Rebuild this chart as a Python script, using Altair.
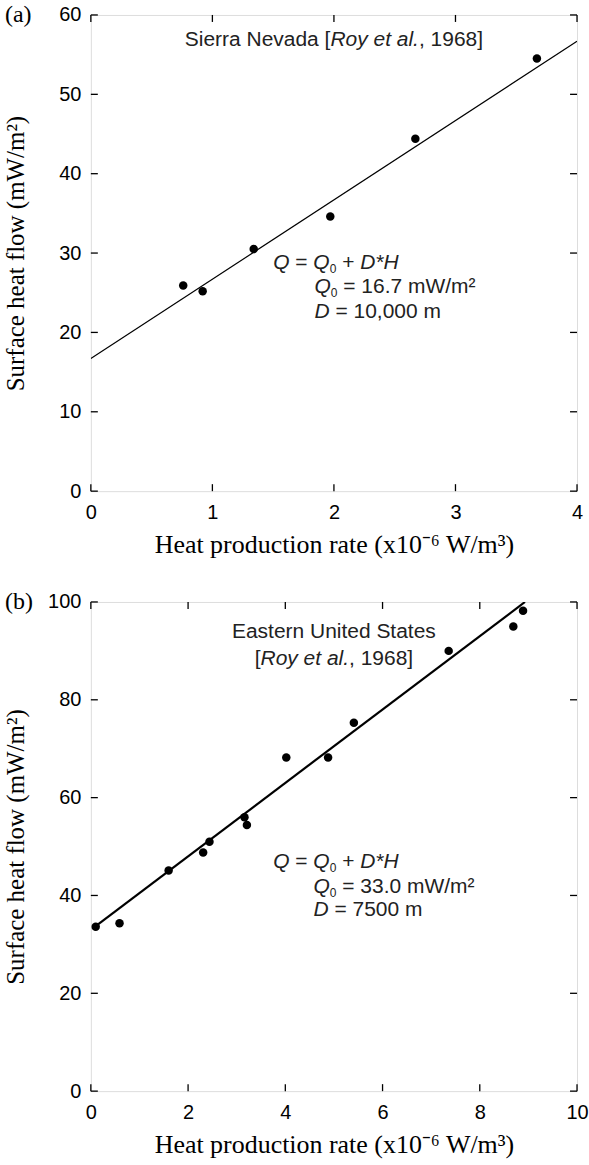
import altair as alt
import pandas as pd

# ---------------- data ----------------
# Panel (a): Sierra Nevada
a_heat = [0.76, 0.92, 1.34, 1.97, 2.67, 3.67]
a_flow = [25.9, 25.2, 30.5, 34.6, 44.4, 54.5]
a_line_heat = [0.0, 4.0]
a_line_flow = [16.7, 56.7]
a_xticks = [0, 1, 2, 3, 4]
a_yticks = [0, 10, 20, 30, 40, 50, 60]

# Panel (b): Eastern United States
b_heat = [0.10, 0.59, 1.60, 2.31, 2.44, 3.16, 3.21, 4.02, 4.88, 5.41, 7.36, 8.69, 8.89]
b_flow = [33.6, 34.3, 45.1, 48.8, 51.0, 56.0, 54.4, 68.2, 68.2, 75.3, 90.0, 95.0, 98.2]
b_line_heat = [0.10, 8.93]
b_line_flow = [33.75, 100.0]
b_xticks = [0, 2, 4, 6, 8, 10]
b_yticks = [0, 20, 40, 60, 80, 100]

X_TITLE = "Heat production rate (x10\u207b\u2076 W/m\u00b3)"
Y_TITLE = "Surface heat flow (mW/m\u00b2)"

SANS = "Liberation Sans"
SERIF = "Liberation Serif"
FS = 21      # annotation font size
SUB = 12     # subscript font size
PW = 487     # plot width

# Helvetica/Arial advance widths (1/1000 em) for text layout
HW = {' ': 278, '[': 278, ']': 278, ',': 278, '.': 278, '=': 584, '+': 584,
      '*': 389, '/': 278, '\u00b2': 333,
      'D': 722, 'E': 667, 'H': 722, 'N': 722, 'Q': 778, 'R': 722, 'S': 667,
      'U': 722, 'W': 944,
      'a': 556, 'd': 556, 'e': 556, 'i': 222, 'l': 222, 'm': 833, 'n': 556,
      'o': 556, 'r': 333, 's': 500, 't': 278, 'v': 500, 'y': 500}


def tw(s, size):
    return sum(HW.get(c, 556) for c in s) * size / 1000.0


def seg_rows(segs, x_start, y, ppu, center=False):
    """segs: list of (text, style); returns rows with data-space x."""
    sizes = {'n': FS, 'i': FS, 's': SUB}
    total = sum(tw(t, sizes[st]) for t, st in segs)
    cur = -total / 2.0 if center else 0.0
    rows = []
    for t, st in segs:
        size = sizes[st]
        lead = len(t) - len(t.lstrip(' '))
        cur += tw(' ' * lead, size)
        core = t.strip(' ')
        rows.append({'h': x_start + cur / ppu, 'q': y, 't': core, 'st': st})
        cur += tw(core, size)
        trail = len(t) - len(t.rstrip(' ')) if t.strip(' ') else 0
        cur += tw(' ' * trail, size)
    return rows


def build_panel(W, H, xdom, ydom, xticks, yticks, px, py, lx, ly, lw,
                text_rows, label, ytitle_pad):
    xs = alt.Scale(domain=xdom, nice=False, zero=False)
    ys = alt.Scale(domain=ydom, nice=False, zero=False)
    ax = alt.Axis(values=xticks, ticks=False, tickSize=0, domain=False, grid=False,
                  labelFont=SANS, labelFontSize=20, labelColor='black',
                  labelPadding=11, labelFlush=False, format='d',
                  titleFont=SERIF, titleFontSize=26, titleFontWeight='normal',
                  titleColor='black', titlePadding=9)
    ay = alt.Axis(values=yticks, ticks=False, tickSize=0, domain=False, grid=False,
                  labelFont=SANS, labelFontSize=20, labelColor='black',
                  labelPadding=10, labelFlush=False, format='d',
                  titleFont=SERIF, titleFontSize=25, titleFontWeight='normal',
                  titleColor='black', titlePadding=ytitle_pad)

    def X():
        return alt.X('h:Q', scale=xs, axis=ax, title=X_TITLE)

    def Y():
        return alt.Y('q:Q', scale=ys, axis=ay, title=Y_TITLE)

    pts = pd.DataFrame({'h': px, 'q': py})
    line = pd.DataFrame({'h': lx, 'q': ly})
    xt = pd.DataFrame({'h': xticks})
    yt = pd.DataFrame({'q': yticks})
    txt = pd.DataFrame(text_rows)
    lab = pd.DataFrame({'t': [label]})
    L = 7

    layers = [
        alt.Chart(line).mark_line(color='black', strokeWidth=lw, clip=True).encode(x=X(), y=Y()),
        alt.Chart(pts).mark_circle(size=72, color='black', opacity=1).encode(x=X(), y=Y()),
        alt.Chart(xt).mark_rule(color='black', strokeWidth=1.3).encode(
            x=X(), y=alt.value(H), y2=alt.value(H - L)),
        alt.Chart(xt).mark_rule(color='black', strokeWidth=1.3).encode(
            x=X(), y=alt.value(0), y2=alt.value(L)),
        alt.Chart(yt).mark_rule(color='black', strokeWidth=1.3).encode(
            y=Y(), x=alt.value(0), x2=alt.value(L)),
        alt.Chart(yt).mark_rule(color='black', strokeWidth=1.3).encode(
            y=Y(), x=alt.value(W), x2=alt.value(W - L)),
        alt.Chart(txt).transform_filter(alt.datum.st == 'n').mark_text(
            font=SANS, fontSize=FS, align='left', baseline='middle', color='#222222').encode(
            x=X(), y=Y(), text='t:N'),
        alt.Chart(txt).transform_filter(alt.datum.st == 'i').mark_text(
            font=SANS, fontSize=FS, fontStyle='italic', align='left', baseline='middle',
            color='#222222').encode(x=X(), y=Y(), text='t:N'),
        alt.Chart(txt).transform_filter(alt.datum.st == 's').mark_text(
            font=SANS, fontSize=SUB, align='left', baseline='middle', dy=6,
            color='#222222').encode(x=X(), y=Y(), text='t:N'),
        alt.Chart(lab).mark_text(font=SERIF, fontSize=24, align='left', baseline='middle',
                                 color='black').encode(
            text='t:N', x=alt.value(-86), y=alt.value(0)),
    ]
    return alt.layer(*layers).properties(width=W, height=H)


# ---------------- annotations ----------------
a_ppu = PW / 4.0
a_text = []
a_text += seg_rows([("Sierra Nevada [", 'n'), ("Roy et al.", 'i'), (", 1968]", 'n')],
                   2.0, 56.8, a_ppu, center=True)
a_text += seg_rows([("Q", 'i'), (" = ", 'n'), ("Q", 'i'), ("0", 's'), (" + ", 'n'), ("D*H", 'i')],
                   1.50, 28.8, a_ppu)
a_text += seg_rows([("Q", 'i'), ("0", 's'), (" = 16.7 mW/m\u00b2", 'n')], 1.84, 25.7, a_ppu)
a_text += seg_rows([("D", 'i'), (" = 10,000 m", 'n')], 1.84, 22.6, a_ppu)

b_ppu = PW / 10.0
b_text = []
b_text += seg_rows([("Eastern United States", 'n')], 5.0, 93.9, b_ppu, center=True)
b_text += seg_rows([("[", 'n'), ("Roy et al.", 'i'), (", 1968]", 'n')], 5.0, 88.4, b_ppu, center=True)
b_text += seg_rows([("Q", 'i'), (" = ", 'n'), ("Q", 'i'), ("0", 's'), (" + ", 'n'), ("D*H", 'i')],
                   3.75, 46.9, b_ppu)
b_text += seg_rows([("Q", 'i'), ("0", 's'), (" = 33.0 mW/m\u00b2", 'n')], 4.58, 41.7, b_ppu)
b_text += seg_rows([("D", 'i'), (" = 7500 m", 'n')], 4.58, 37.0, b_ppu)

top = build_panel(PW, 477, [0, 4], [0, 60], a_xticks, a_yticks, a_heat, a_flow,
                  a_line_heat, a_line_flow, 1.2, a_text, "(a)", 30)
bottom = build_panel(PW, 490, [0, 10], [0, 100], b_xticks, b_yticks, b_heat, b_flow,
                     b_line_heat, b_line_flow, 2.2, b_text, "(b)", 19)

chart = alt.vconcat(top, bottom, spacing=31).properties(
    padding={'left': 3, 'top': 1, 'right': 0, 'bottom': 0}
).configure_view(stroke='black', strokeWidth=2).configure(background='white')

chart.save("out.html", embed_options={"renderer": "svg", "actions": False})
